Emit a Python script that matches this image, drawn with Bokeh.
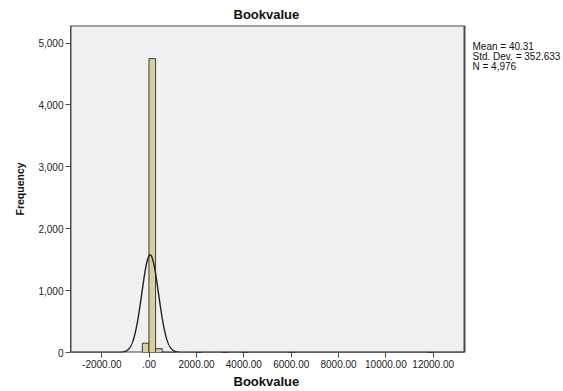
import numpy as np
from bokeh.plotting import figure
from bokeh.models import Range1d, FixedTicker, NumeralTickFormatter, ColumnDataSource, Title
from bokeh.core.properties import value
from bokeh.embed import file_html
from bokeh.resources import INLINE

# ---- data ----
bin_left = [-290, -10, 270, 550, 830, 1950, 3070, 3910, 5870, 11750]
bin_count = [150, 4748, 62, 6, 3, 2, 2, 1, 1, 1]
bin_width = 280
mean_val = 40.31
std_val = 352.633
n_val = 4976
x_ticks = [-2000, 0, 2000, 4000, 6000, 8000, 10000, 12000]
x_tick_labels = ["-2000.00", ".00", "2000.00", "4000.00", "6000.00", "8000.00", "10000.00", "12000.00"]
y_ticks = [0, 1000, 2000, 3000, 4000, 5000]
stats_lines = ["Mean = 40.31", "Std. Dev. = 352.633", "N = 4,976"]

FONT = "Liberation Sans"

# plotted area (grey box) in data units
x0, x1 = -3325, 13322
y0, y1 = 0, 5283

W, H = 563, 391
L, R, T, B = 70, 0, 25, 39
box_px = 394                       # width of the grey box in pixels
ppx = box_px / (x1 - x0)
frame_w = W - L - R
ppy = (H - T - B) / (y1 - y0)
x_end = x0 + frame_w / ppx         # frame extends to the right edge (stats area)

p = figure(width=W, height=H, output_backend="svg", toolbar_location=None,
           x_range=Range1d(x0, x_end), y_range=Range1d(y0, y1),
           min_border_left=L, min_border_right=R, min_border_top=T, min_border_bottom=B)
p.background_fill_color = "white"
p.border_fill_color = "white"
p.outline_line_color = None
p.grid.visible = False

p.title.text = "Bookvalue"
p.title.align = "left"
p.title.offset = 163
p.title.text_font = FONT
p.title.text_font_size = "13px"
p.title.text_font_style = "bold"
p.title.text_color = "#111111"
p.title.standoff = 7

# grey plot box with border
p.quad(left=[x0], right=[x1], bottom=[y0], top=[y1],
       fill_color="#f0f0f0", line_color="#4a4a4a", line_width=2)

src = ColumnDataSource(dict(left=bin_left,
                            right=[b + bin_width for b in bin_left],
                            top=bin_count))
p.quad(left="left", right="right", bottom=0, top="top", source=src,
       fill_color="#d6d19b", line_color="#3a3a3a", line_width=1)

xs = np.linspace(x0, x1, 3000)
ys = n_val * bin_width * np.exp(-0.5 * ((xs - mean_val) / std_val) ** 2) / (std_val * np.sqrt(2 * np.pi))
p.line(xs, ys, line_color="#222222", line_width=1.4)

# stats text to the right of the box
sx = x1 + 8 / ppx
sy = [y1 - (21 + 10 * i) / ppy for i in range(len(stats_lines))]
p.text(x=[sx] * len(stats_lines), y=sy, text=stats_lines,
       text_font=value(FONT), text_font_size=value("10px"), text_color="#111111",
       text_align="left", text_baseline="middle")

# axes
p.xaxis.ticker = FixedTicker(ticks=x_ticks)
p.xaxis.major_label_overrides = {t: l for t, l in zip(x_ticks, x_tick_labels)}
p.yaxis.ticker = FixedTicker(ticks=y_ticks)
p.yaxis.formatter = NumeralTickFormatter(format="0,0")
for ax in (p.xaxis, p.yaxis):
    ax.major_tick_line_color = "#4a4a4a"
    ax.major_tick_in = 0
    ax.major_tick_out = 5
    ax.minor_tick_line_color = None
    ax.major_label_text_font = FONT
    ax.major_label_text_font_size = "10px"
    ax.major_label_text_color = "#222222"
    ax.axis_label_text_font = FONT
    ax.axis_label_text_font_style = "bold"
    ax.axis_label_text_color = "#111111"
p.xaxis.axis_line_color = None
p.yaxis.axis_line_color = "#4a4a4a"
p.xaxis.major_label_standoff = 2
p.yaxis.axis_label = "Frequency"
p.yaxis.axis_label_text_font_size = "10.5px"
p.yaxis.axis_label_standoff = 9
p.yaxis.major_label_standoff = 2

# x-axis title, centred under the grey box
p.add_layout(Title(text="Bookvalue", align="left", offset=163, standoff=2,
                   text_font=FONT, text_font_size="13px", text_font_style="bold",
                   text_color="#111111"), "below")

open("out.html", "w").write(file_html(p, INLINE))
